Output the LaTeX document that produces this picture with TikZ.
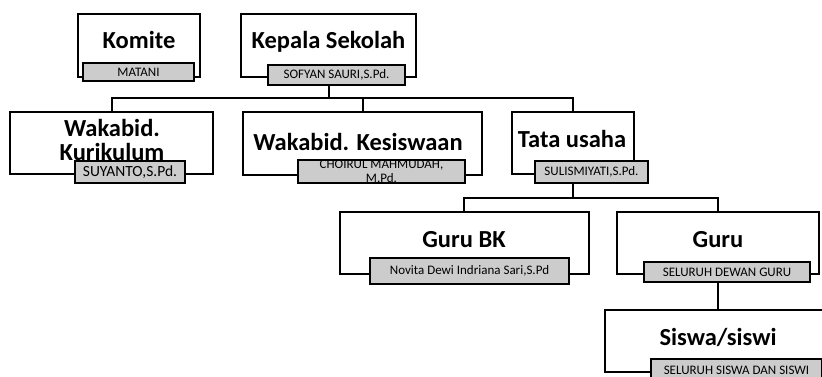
\documentclass[tikz,border=0pt]{standalone}
\usepackage{fontspec}
\setmainfont{Carlito}
\usetikzlibrary{positioning,calc}

\begin{document}
\begin{tikzpicture}[x=1pt,y=-1pt,
  jabatan/.style={draw=black,line width=2pt,fill=white,inner sep=0pt},
  judul/.style={font=\fontsize{24.5}{24}\selectfont\bfseries,align=center,inner sep=0pt,anchor=base},
  nama/.style={draw=black,line width=2pt,fill=black!20,inner sep=0pt,font=\fontsize{13}{14}\selectfont,align=center},
  garis/.style={line width=2pt}]
\useasboundingbox (0,0) rectangle (822,376);
% baris atas
\node[jabatan,minimum width=122pt,minimum height=63pt] (kom) at (139,45) {};
\node[judul] (komT) at (139,48) {Komite};
\node[nama,minimum width=111pt,minimum height=18pt] (komN) at (138.5,72) {MATANI};
\node[jabatan,minimum width=175pt,minimum height=63pt] (kep) at (328.5,45) {};
\node[judul] (kepT) at (328.5,48) {Kepala Sekolah};
\node[nama,minimum width=137pt,minimum height=20pt] (kepN) at (336.5,75) {SOFYAN SAURI,S.Pd.};
% baris kedua
\node[jabatan,minimum width=203pt,minimum height=62pt] (wkur) at (111.5,143) {};
\node[judul,anchor=center] (wkurT) at (112,139.5) {Wakabid.\\Kurikulum};
\node[nama,minimum width=110pt,minimum height=22pt,font=\fontsize{15.5}{16}\selectfont] (wkurN) at (130,172) {SUYANTO,S.Pd.};
\node[jabatan,minimum width=239pt,minimum height=63pt] (wkes) at (362.5,143.5) {};
\node[judul] (wkesT) at (358,150) {Wakabid. Kesiswaan};
\node[nama,minimum width=167pt,minimum height=23pt,font=\fontsize{13}{13.5}\selectfont] (wkesN) at (381.5,171.5) {CHOIRUL MAHMUDAH,\\M.Pd.};
\node[jabatan,minimum width=122pt,minimum height=62pt] (tu) at (573,143) {};
\node[judul] (tuT) at (572,147) {Tata usaha};
\node[nama,minimum width=113pt,minimum height=22pt] (tuN) at (591.5,172) {SULISMIYATI,S.Pd.};
% baris ketiga
\node[jabatan,minimum width=249pt,minimum height=62pt] (gbk) at (464,243) {};
\node[judul] (gbkT) at (464,247) {Guru BK};
\node[nama,minimum width=199pt,minimum height=26pt] (gbkN) at (469.5,271) {Novita Dewi Indriana Sari,S.Pd};
\node[jabatan,minimum width=202pt,minimum height=62pt] (guru) at (718,243) {};
\node[judul] (guruT) at (718,247) {Guru};
\node[nama,minimum width=166pt,minimum height=20pt] (guruN) at (727,272) {SELURUH DEWAN GURU};
% baris bawah
\node[jabatan,minimum width=226pt,minimum height=62pt] (sis) at (718,341) {};
\node[judul] (sisT) at (718,345) {Siswa/siswi};
\node[nama,minimum width=171pt,minimum height=22pt] (sisN) at (736.5,370) {SELURUH SISWA DAN SISWI};
% garis
\coordinate (cabang1) at (328.5,98);
\coordinate (cabang2) at (573,198);
\draw[garis] (kepN.south -| kep.south) -- (cabang1);
\draw[garis] (wkur.north) |- (cabang1) -| (tu.north);
\draw[garis] (wkes.north) -- (wkes.north |- cabang1);
\draw[garis] (tuN.south -| tu.south) -- (cabang2);
\draw[garis] (gbk.north) |- (cabang2) -| (guru.north);
\draw[garis] (guruN.south -| guru.south) -- (sis.north);
\end{tikzpicture}
\end{document}
